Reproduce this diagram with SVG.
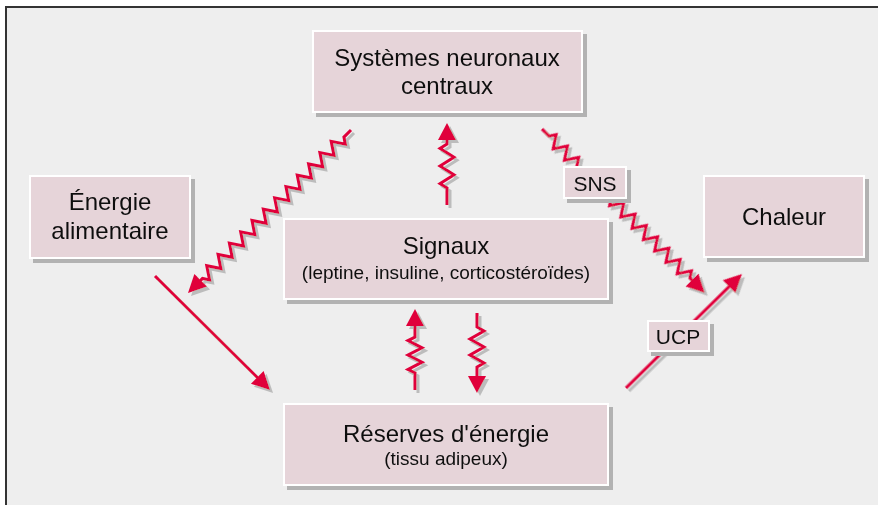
<svg xmlns="http://www.w3.org/2000/svg" width="878" height="505" viewBox="0 0 878 505">
<defs>
<style>
.box{fill:#e6d4d9;stroke:#ffffff;stroke-width:2}
.t{font-family:"Liberation Sans",Arial,sans-serif;fill:#111111;text-anchor:middle}
.big{font-size:24px}
.sub{font-size:19px}
.lab{font-size:21px}
.ln{fill:none;stroke:#e0003a;stroke-width:3;stroke-linejoin:miter}
.hd{fill:#e0003a;stroke:none}
</style>
<filter id="bsh" filterUnits="userSpaceOnUse" x="0" y="0" width="878" height="505">
<feDropShadow dx="4" dy="4" stdDeviation="0.4" flood-color="#b2b2b2" flood-opacity="1"/>
</filter>
<filter id="ash" filterUnits="userSpaceOnUse" x="0" y="0" width="878" height="505">
<feDropShadow dx="3" dy="3" stdDeviation="0.5" flood-color="#bcbcbc" flood-opacity="1"/>
</filter>
</defs>
<rect x="0" y="0" width="878" height="505" fill="#ffffff"/>
<rect x="6" y="7" width="880" height="510" fill="#eeeeee" stroke="#333333" stroke-width="2"/>

<g id="connectors" filter="url(#ash)">
<g transform="translate(351,130) rotate(135)">
<path class="ln" d="M0,0H10l4,-6l8,12l8,-12l8,12l8,-12l8,12l8,-12l8,12l8,-12l8,12l8,-12l8,12l8,-12l8,12l8,-12l8,12l8,-12l8,12l8,-12l8,12l8,-12l8,12l8,-12l8,12l8,-12l4,6H214"/>
<polygon class="hd" points="230.5,0 212.5,-9 212.5,9"/>
</g>
<g transform="translate(542,129) rotate(45.2)">
<path class="ln" d="M0,0H10l4,-6l8,12l8,-12l8,12l8,-12l8,12l8,-12l8,12l8,-12l8,12l8,-12l8,12l8,-12l8,12l8,-12l8,12l8,-12l8,12l8,-12l8,12l8,-12l8,12l8,-12l8,12l8,-12l4,6H215"/>
<polygon class="hd" points="231,0 213,-9 213,9"/>
</g>
<g transform="translate(447,205) rotate(-90)">
<path class="ln" d="M0,0H17l4.4,-7l8.8,14l8.8,-14l8.8,14l8.8,-14l4.4,7H67"/>
<polygon class="hd" points="82,0 65,-9 65,9"/>
</g>
<g transform="translate(415,390) rotate(-90)">
<path class="ln" d="M0,0H17l3.6,-7l7.2,14l7.2,-14l7.2,14l7.2,-14l3.6,7H66"/>
<polygon class="hd" points="81,0 64,-9 64,9"/>
</g>
<g transform="translate(477,313) rotate(90)">
<path class="ln" d="M0,0H14l4,-7l8,14l8,-14l8,14l8,-14l4,7H65"/>
<polygon class="hd" points="80,0 63,-9 63,9"/>
</g>
<g transform="translate(155,276) rotate(44.75)">
<path class="ln" d="M0,0H147"/>
<polygon class="hd" points="162,0 144,-9 144,9"/>
</g>
<g transform="translate(626,388) rotate(-44.5)">
<path class="ln" d="M0,0H148"/>
<polygon class="hd" points="162.6,0 144.6,-9 144.6,9"/>
</g>
</g>

<g id="node-systemes" filter="url(#bsh)">
<rect class="box" x="313" y="31" width="269" height="81"/>
<text class="t big" x="447" y="66">Systèmes neuronaux</text>
<text class="t big" x="447" y="94">centraux</text>
</g>
<g id="node-energie" filter="url(#bsh)">
<rect class="box" x="30" y="176" width="160" height="82"/>
<text class="t big" x="110" y="210">Énergie</text>
<text class="t big" x="110" y="239">alimentaire</text>
</g>
<g id="node-signaux" filter="url(#bsh)">
<rect class="box" x="284" y="219" width="324" height="80"/>
<text class="t big" x="446" y="254">Signaux</text>
<text class="t sub" x="446" y="279">(leptine, insuline, corticostéroïdes)</text>
</g>
<g id="node-chaleur" filter="url(#bsh)">
<rect class="box" x="704" y="176" width="160" height="81"/>
<text class="t big" x="784" y="225">Chaleur</text>
</g>
<g id="node-reserves" filter="url(#bsh)">
<rect class="box" x="284" y="404" width="324" height="81"/>
<text class="t big" x="446" y="442">Réserves d'énergie</text>
<text class="t sub" x="446" y="465">(tissu adipeux)</text>
</g>
<g id="label-sns" filter="url(#bsh)">
<rect class="box" x="564" y="167" width="62" height="31"/>
<text class="t lab" x="595" y="191">SNS</text>
</g>
<g id="label-ucp" filter="url(#bsh)">
<rect class="box" x="648" y="321" width="61" height="30"/>
<text class="t lab" x="678" y="344">UCP</text>
</g>
</svg>
